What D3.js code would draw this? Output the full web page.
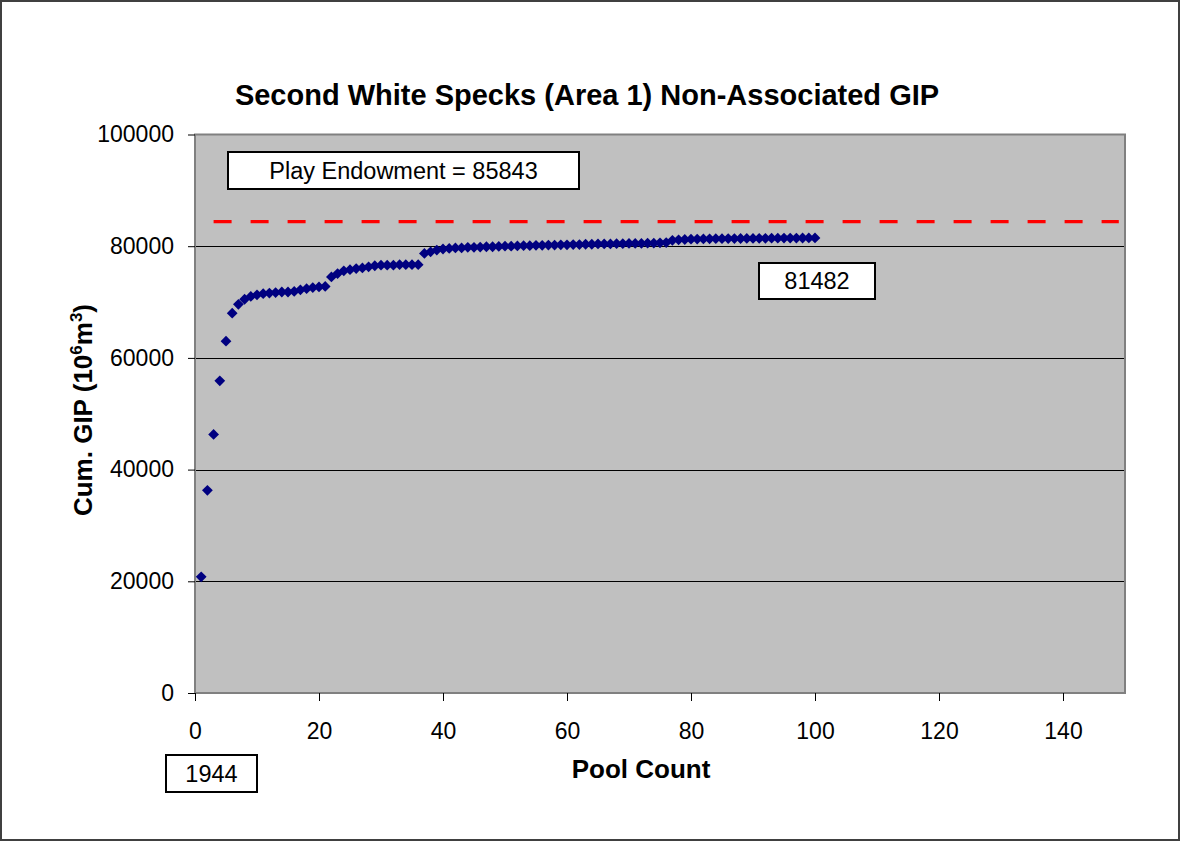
<!DOCTYPE html>
<meta charset="utf-8">
<style>
body { margin: 0; background: #fff; }
svg { font-family: 'Liberation Sans', Arial, sans-serif; }
.axis text { font-size: 23px; fill: #000; }
.axis path { stroke: none; }
.axis line { stroke: #000; }
.grid line { stroke: #000; stroke-width: 1px; shape-rendering: crispEdges; }
.grid path { stroke: none; }
.title { font-size: 29px; font-weight: bold; text-anchor: middle; }
.axis-title { font-size: 26px; font-weight: bold; text-anchor: middle; }
.box rect { fill: #fff; stroke: #000; stroke-width: 2px; }
.box text { font-size: 23.5px; text-anchor: middle; }
.endowment-line { stroke: #ff0000; stroke-width: 3.3px; stroke-dasharray: 18,19; }
.data-point { fill: #000080; }
</style>
<body>
<svg width="1180" height="841"></svg>
<script src="https://d3js.org/d3.v7.min.js"></script>
<script>
var poolCount = d3.range(1, 101);
var cumGip = [
  20800, 36300, 46300, 55900, 63000, 68000, 69600, 70500, 71000, 71300,
  71500, 71600, 71700, 71800, 71800, 71900, 72200, 72400, 72600, 72700,
  72800, 74500, 75100, 75600, 75800, 76000, 76100, 76300, 76500, 76600,
  76600, 76600, 76700, 76700, 76700, 76700, 78700, 79000, 79300, 79500,
  79600, 79700, 79700, 79800, 79800, 79850, 79900, 79900, 79950, 80000,
  80000, 80050, 80100, 80100, 80150, 80150, 80200, 80200, 80250, 80250,
  80300, 80300, 80350, 80350, 80400, 80400, 80400, 80450, 80450, 80500,
  80500, 80500, 80550, 80550, 80600, 80650, 81050, 81150, 81200, 81250,
  81280, 81300, 81320, 81340, 81350, 81360, 81370, 81380, 81390, 81400,
  81410, 81420, 81430, 81440, 81450, 81455, 81460, 81470, 81475, 81482
];
var xTicks = [0, 20, 40, 60, 80, 100, 120, 140];
var yTicks = [0, 20000, 40000, 60000, 80000, 100000];
var endowmentLevel = 84400;
var endowmentRange = [3, 149];
var endowmentLabel = "Play Endowment = 85843";
var finalLabel = "81482";
var yearLabel = "1944";

var svg = d3.select("svg"),
    margin = {top: 134.5, right: 55, bottom: 148, left: 195},
    width = +svg.attr("width") - margin.left - margin.right,
    height = +svg.attr("height") - margin.top - margin.bottom;

// outer chart frame
svg.append("rect")
    .attr("x", 1).attr("y", 1)
    .attr("width", 1178).attr("height", 839)
    .attr("fill", "#fff")
    .attr("stroke", "#404040")
    .attr("stroke-width", 2);

var x = d3.scaleLinear().domain([0, 150]).range([0, width]);
var y = d3.scaleLinear().domain([0, 100000]).range([height, 0]);

var g = svg.append("g")
    .attr("transform", "translate(" + margin.left + "," + margin.top + ")");

// plot area
g.append("rect")
    .attr("width", width).attr("height", height)
    .attr("fill", "#c0c0c0");

// gridlines
g.append("g")
    .attr("class", "grid")
    .call(d3.axisLeft(y).tickValues(yTicks.slice(1, -1)).tickSize(-width).tickFormat(""));

// plot border
g.append("rect")
    .attr("width", width).attr("height", height)
    .attr("fill", "none")
    .attr("stroke", "#808080")
    .attr("stroke-width", 2);

g.append("g")
    .attr("class", "axis axis--x")
    .attr("transform", "translate(0," + height + ")")
    .call(d3.axisBottom(x).tickValues(xTicks).tickSize(8).tickPadding(22).tickFormat(d3.format("d")));

g.append("g")
    .attr("class", "axis axis--y")
    .call(d3.axisLeft(y).tickValues(yTicks).tickSize(7).tickPadding(14).tickFormat(d3.format("d")));

// endowment dashed line
g.append("line")
    .attr("class", "endowment-line")
    .attr("x1", x(endowmentRange[0]))
    .attr("x2", x(endowmentRange[1]))
    .attr("y1", y(endowmentLevel))
    .attr("y2", y(endowmentLevel));

// data points
var diamond = d3.symbol().type(d3.symbolSquare).size(58);
g.selectAll(".data-point")
    .data(cumGip)
  .enter().append("path")
    .attr("class", "data-point")
    .attr("d", diamond)
    .attr("transform", function(d, i) {
      return "translate(" + x(poolCount[i]) + "," + y(d) + ") rotate(45)";
    });

// title and axis titles
svg.append("text")
    .attr("class", "title")
    .attr("x", 587).attr("y", 105)
    .text("Second White Specks (Area 1) Non-Associated GIP");

svg.append("text")
    .attr("class", "axis-title")
    .attr("x", 641).attr("y", 778)
    .text("Pool Count");

var yTitle = svg.append("text")
    .attr("class", "axis-title")
    .attr("transform", "translate(92,410) rotate(-90)");
yTitle.append("tspan").text("Cum. GIP (10");
yTitle.append("tspan").attr("dy", -10).attr("font-size", "17px").text("6");
yTitle.append("tspan").attr("dy", 10).text("m");
yTitle.append("tspan").attr("dy", -10).attr("font-size", "17px").text("3");
yTitle.append("tspan").attr("dy", 10).text(")");

// annotation boxes
function addBox(x0, y0, w, h, label) {
  var b = svg.append("g").attr("class", "box");
  b.append("rect").attr("x", x0).attr("y", y0).attr("width", w).attr("height", h);
  b.append("text").attr("x", x0 + w / 2).attr("y", y0 + h / 2 + 8).text(label);
}
addBox(228, 152, 351, 37, endowmentLabel);
addBox(759, 263, 116, 36, finalLabel);
addBox(166, 755, 91, 37, yearLabel);
</script>
